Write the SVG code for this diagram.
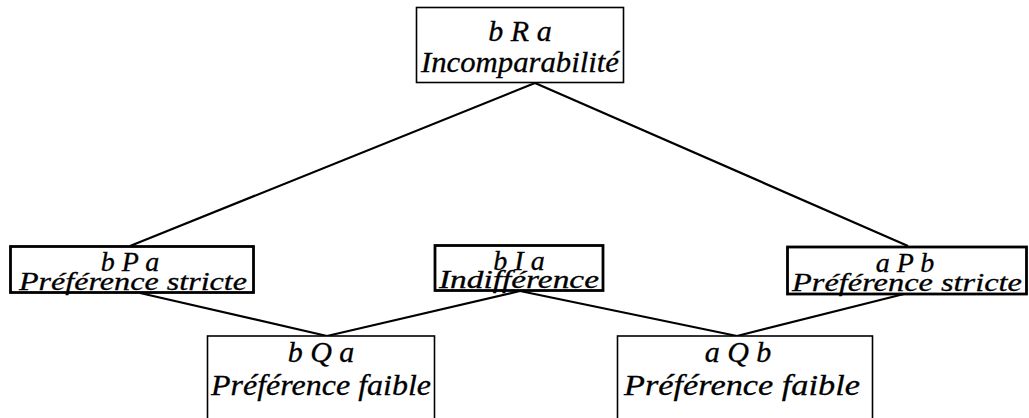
<svg xmlns="http://www.w3.org/2000/svg" width="1029" height="418" viewBox="0 0 1029 418">
<style>
.box{fill:#fff;stroke:#000;stroke-width:1.6}
.tbox{fill:#fff;stroke:#000;stroke-width:2.8}
.t{font-family:"Liberation Serif",serif;font-style:italic;font-size:30px;fill:#000;text-anchor:middle;stroke:#000;stroke-width:0.3}
.s{font-size:26px}
.m{font-size:28px}
.c{stroke:#000;stroke-width:2.2;fill:none}
</style>
<rect width="1029" height="418" fill="#fff"/>
<g id="connectors">
<line class="c" x1="535" y1="83" x2="130" y2="246"/>
<line class="c" x1="535" y1="83" x2="908" y2="246"/>
<line class="c" x1="140" y1="293" x2="327" y2="336"/>
<line class="c" x1="520" y1="291" x2="327" y2="336"/>
<line class="c" x1="520" y1="291" x2="737" y2="336"/>
<line class="c" x1="904" y1="294" x2="737" y2="336"/>
</g>
<g id="bRa">
<rect class="box" x="416.5" y="7.5" width="207" height="75"/>
<text class="t" x="520" y="41">b R a</text>
<text class="t" x="520" y="72" textLength="198" lengthAdjust="spacingAndGlyphs">Incomparabilité</text>
</g>
<g id="bPa">
<rect class="tbox" x="10.5" y="246.5" width="243" height="46"/>
<text class="t m" x="130" y="271">b P a</text>
<text class="t s" x="133" y="290" textLength="228" lengthAdjust="spacingAndGlyphs">Préférence stricte</text>
</g>
<g id="bIa">
<rect class="tbox" x="435" y="245.5" width="168" height="45"/>
<text class="t m" x="519" y="270">b I a</text>
<text class="t s" x="519" y="288" textLength="160" lengthAdjust="spacingAndGlyphs">Indifférence</text>
</g>
<g id="aPb">
<rect class="tbox" x="787.5" y="247" width="239" height="47"/>
<text class="t m" x="905" y="272">a P b</text>
<text class="t s" x="907" y="291" textLength="230" lengthAdjust="spacingAndGlyphs">Préférence stricte</text>
</g>
<g id="bQa">
<rect class="box" x="207.5" y="336" width="227" height="90"/>
<text class="t" x="321" y="362">b Q a</text>
<text class="t" x="321" y="395" textLength="220" lengthAdjust="spacingAndGlyphs">Préférence faible</text>
</g>
<g id="aQb">
<rect class="box" x="617.5" y="336" width="255" height="90"/>
<text class="t" x="738" y="362">a Q b</text>
<text class="t" x="742" y="395" textLength="236" lengthAdjust="spacingAndGlyphs">Préférence faible</text>
</g>
</svg>
